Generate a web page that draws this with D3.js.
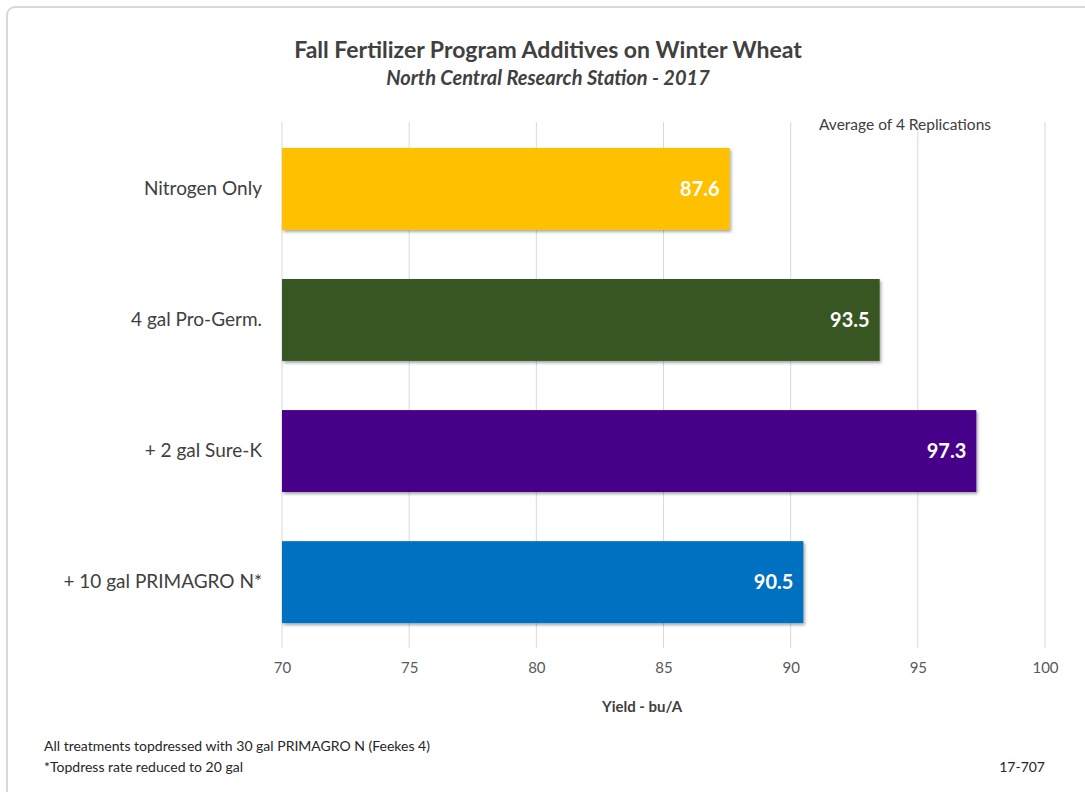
<!DOCTYPE html>
<html>
<head>
<meta charset="utf-8">
<script src="https://cdn.jsdelivr.net/npm/d3@7"></script>
<style>
    body { margin: 0; background: #fff; font-family: Lato, "Open Sans", sans-serif; }
    svg text { font-family: Lato, "Open Sans", sans-serif; }
</style>
</head>
<body>
<div id="chart"></div>
<script>
// Chart data
const categories = ['Nitrogen Only', '4 gal Pro-Germ.', '+ 2 gal Sure-K', '+ 10 gal PRIMAGRO N*'];
const yields = [87.6, 93.5, 97.3, 90.5];
const barColors = ['#FFC000', '#385723', '#46008A', '#0070C0'];
const xTicks = [70, 75, 80, 85, 90, 95, 100];

const width = 1085, height = 792;
const margin = { top: 122, right: 40, bottom: 144, left: 282 };

const svg = d3.select('#chart')
    .append('svg')
    .attr('width', width)
    .attr('height', height);

// Drop shadow for bars
const defs = svg.append('defs');
const filter = defs.append('filter').attr('id', 'shadow')
    .attr('x', '-5%').attr('y', '-10%').attr('width', '115%').attr('height', '130%');
filter.append('feDropShadow')
    .attr('dx', 1.5).attr('dy', 2).attr('stdDeviation', 1.5)
    .attr('flood-color', '#000').attr('flood-opacity', 0.35);

// Chart frame
svg.append('rect')
    .attr('x', 7).attr('y', 7)
    .attr('width', width + 20).attr('height', height + 20)
    .attr('rx', 8)
    .attr('fill', '#fff')
    .attr('stroke', '#d9d9d9')
    .attr('stroke-width', 2);

const x = d3.scaleLinear()
    .domain([70, 100])
    .range([margin.left, width - margin.right]);

const y = d3.scaleBand()
    .domain(categories)
    .range([123, 648])
    .paddingInner(0.375)
    .paddingOuter(0.19);

// Gridlines
svg.append('g')
    .selectAll('line')
    .data(xTicks)
    .enter()
    .append('line')
    .attr('x1', d => x(d)).attr('x2', d => x(d))
    .attr('y1', margin.top).attr('y2', height - margin.bottom)
    .attr('stroke', '#d9d9d9')
    .attr('stroke-width', 1);

// Bars
svg.append('g')
    .selectAll('rect')
    .data(categories)
    .enter()
    .append('rect')
    .attr('x', x(70))
    .attr('y', d => y(d))
    .attr('width', (d, i) => x(yields[i]) - x(70))
    .attr('height', y.bandwidth())
    .attr('fill', (d, i) => barColors[i])
    .attr('filter', 'url(#shadow)');

// Value labels
svg.append('g')
    .selectAll('text')
    .data(categories)
    .enter()
    .append('text')
    .attr('x', (d, i) => x(yields[i]) - 10)
    .attr('y', d => y(d) + y.bandwidth() / 2)
    .attr('dy', '0.35em')
    .attr('text-anchor', 'end')
    .attr('fill', '#fff')
    .attr('font-size', 20)
    .attr('font-weight', 'bold')
    .text((d, i) => yields[i].toFixed(1));

// Category labels
const yAxis = d3.axisLeft(y).tickSize(0).tickPadding(20);
const yAxisG = svg.append('g')
    .attr('transform', `translate(${margin.left},0)`)
    .call(yAxis);
yAxisG.select('.domain').remove();
yAxisG.selectAll('text')
    .attr('font-size', 19)
    .attr('fill', '#404040');

// X axis tick labels
const xAxis = d3.axisBottom(x).tickValues(xTicks).tickSize(0).tickPadding(14);
const xAxisG = svg.append('g')
    .attr('transform', `translate(0,${height - margin.bottom})`)
    .call(xAxis);
xAxisG.select('.domain').remove();
xAxisG.selectAll('text')
    .attr('font-size', 15)
    .attr('fill', '#595959');

// Titles
svg.append('text')
    .attr('x', 548).attr('y', 58)
    .attr('text-anchor', 'middle')
    .attr('font-size', 23)
    .attr('font-weight', 'bold')
    .attr('fill', '#404040')
    .text('Fall Fertilizer Program Additives on Winter Wheat');

svg.append('text')
    .attr('x', 548).attr('y', 85)
    .attr('text-anchor', 'middle')
    .attr('font-size', 20)
    .attr('font-weight', 'bold')
    .attr('font-style', 'italic')
    .attr('fill', '#404040')
    .text('North Central Research Station - 2017');

svg.append('text')
    .attr('x', 905).attr('y', 130)
    .attr('text-anchor', 'middle')
    .attr('font-size', 15.5)
    .attr('fill', '#404040')
    .text('Average of 4 Replications');

// Axis title
svg.append('text')
    .attr('x', 642).attr('y', 712)
    .attr('text-anchor', 'middle')
    .attr('font-size', 15)
    .attr('font-weight', 'bold')
    .attr('fill', '#404040')
    .text('Yield - bu/A');

// Footnotes
svg.append('text')
    .attr('x', 44).attr('y', 751)
    .attr('font-size', 14)
    .attr('fill', '#262626')
    .text('All treatments topdressed with 30 gal PRIMAGRO N (Feekes 4)');

svg.append('text')
    .attr('x', 44).attr('y', 772)
    .attr('font-size', 14)
    .attr('fill', '#262626')
    .text('*Topdress rate reduced to 20 gal');

svg.append('text')
    .attr('x', 1045).attr('y', 772)
    .attr('text-anchor', 'end')
    .attr('font-size', 14)
    .attr('fill', '#262626')
    .text('17-707');
</script>
</body>
</html>
